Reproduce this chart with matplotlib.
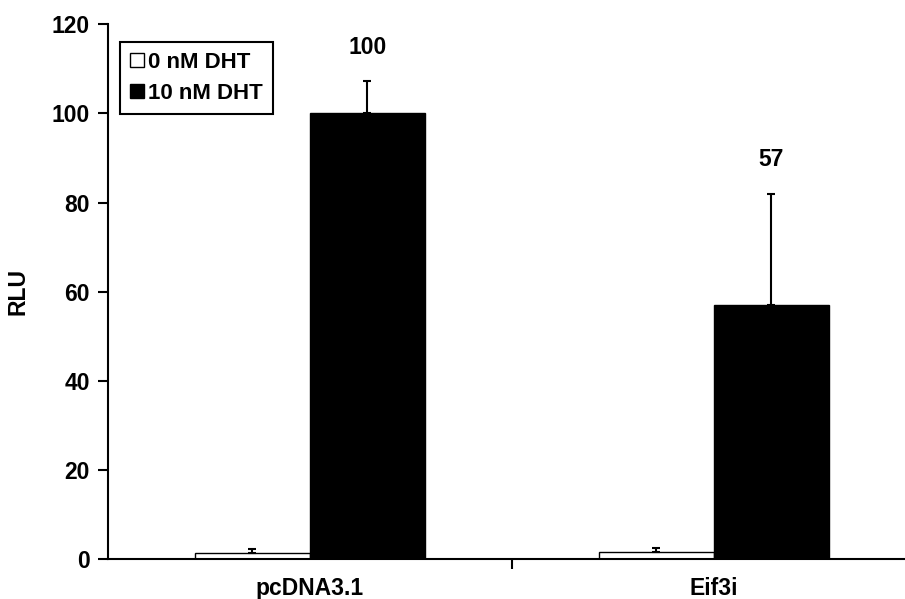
import matplotlib.pyplot as plt
import numpy as np

plt.rcParams['font.family'] = ['Liberation Sans', 'DejaVu Sans']
plt.rcParams['font.weight'] = 'bold'

groups = ["pcDNA3.1", "Eif3i"]
series_names = ["0 nM DHT", "10 nM DHT"]
no_dht = [1.3, 1.6]
no_dht_err = [1.0, 0.9]
dht = [100, 57]
dht_err = [7.3, 25]
value_labels = ["100", "57"]


def make_chart():
    fig = plt.figure(figsize=(9.05, 5.99), dpi=100)
    ax = fig.add_axes([0.119, 0.0668, 0.881, 0.8926])

    x = np.arange(len(groups))
    width = 0.285
    ax.bar(x - width / 2, no_dht, width, color="white", edgecolor="black",
           linewidth=1, label=series_names[0],
           yerr=[np.zeros(len(no_dht)), no_dht_err],
           error_kw=dict(ecolor="black", elinewidth=1.5, capsize=3, capthick=1.5))
    ax.bar(x + width / 2, dht, width, color="black", edgecolor="black",
           linewidth=1, label=series_names[1],
           yerr=[np.zeros(len(dht)), dht_err],
           error_kw=dict(ecolor="black", elinewidth=1.5, capsize=3, capthick=1.5))

    # numbers over the black bars
    for xi, v, e, lab in zip(x, dht, dht_err, value_labels):
        ax.annotate(lab, xy=(xi + width / 2, v + e), xytext=(0, 16),
                    textcoords="offset points", ha="center", va="bottom",
                    fontsize=16.5, fontweight="bold")

    ax.set_xlim(-0.5, 1.473)
    ax.set_ylim(0, 120)
    ax.set_yticks(range(0, 121, 20))
    ax.set_xticks(x, groups)
    ax.set_xticks([0.5], minor=True)
    ax.tick_params(axis="x", which="major", length=0, pad=13, labelsize=16.5)
    ax.tick_params(axis="x", which="minor", direction="out", length=7, width=1.5)
    ax.tick_params(axis="y", direction="out", length=7, width=1.5, labelsize=16.5, pad=6)
    ax.set_ylabel("RLU", fontsize=16.5, fontweight="bold", labelpad=16)

    for s in ["top", "right"]:
        ax.spines[s].set_visible(False)
    for s in ["left", "bottom"]:
        ax.spines[s].set_linewidth(1.5)

    leg = ax.legend(loc="upper left", bbox_to_anchor=(0.016, 0.9675), borderaxespad=0,
                    fancybox=False, edgecolor="black", fontsize=16,
                    handlelength=0.6, handleheight=0.6, handletextpad=0.2,
                    borderpad=0.45, labelspacing=0.45)
    leg.get_frame().set_linewidth(1.5)
    leg.get_frame().set_alpha(1)

    fig.savefig("out.png", dpi=100)


if __name__ == "__main__":
    make_chart()
